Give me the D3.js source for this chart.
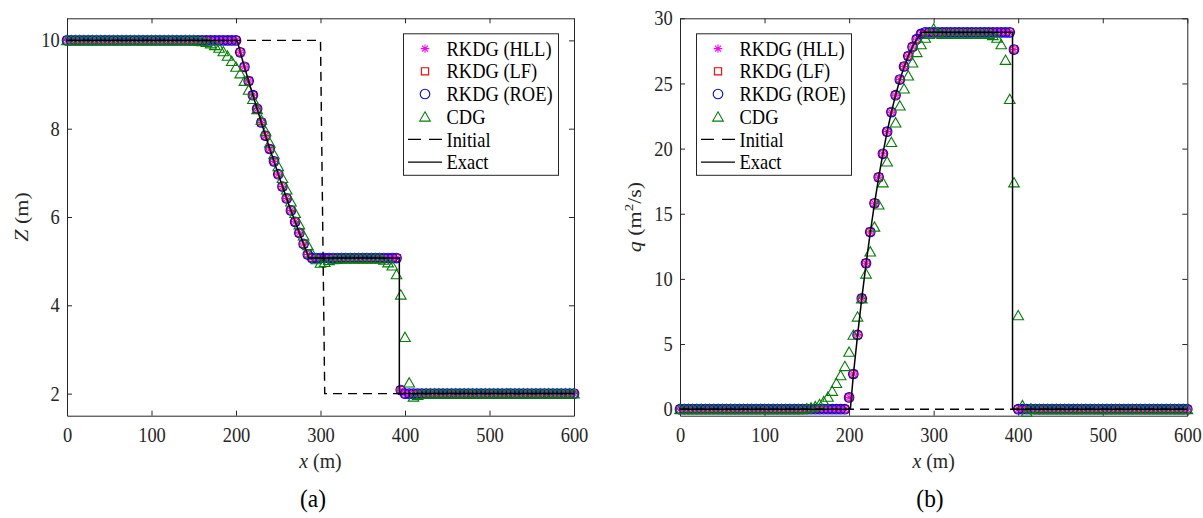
<!DOCTYPE html>
<html>
<head>
<meta charset="utf-8">
<script src="https://cdn.jsdelivr.net/npm/d3@7"></script>
<style>
  body { margin: 0; background: #fff; }
  svg { display: block; }
</style>
</head>
<body>
<svg id="fig" width="1203" height="518"></svg>
<script>
// Dam-break test: water level Z and discharge q at t = 10 s, dx = 5 m
const xGrid = [
  0,5,10,15,20,25,30,35,40,45,50,55,60,65,70,75,80,85,90,95,
  100,105,110,115,120,125,130,135,140,145,150,155,160,165,170,175,180,185,190,195,
  200,205,210,215,220,225,230,235,240,245,250,255,260,265,270,275,280,285,290,295,
  300,305,310,315,320,325,330,335,340,345,350,355,360,365,370,375,380,385,390,395,
  400,405,410,415,420,425,430,435,440,445,450,455,460,465,470,475,480,485,490,495,
  500,505,510,515,520,525,530,535,540,545,550,555,560,565,570,575,580,585,590,595,
  600
];

// Water level Z (m)
const hllZ = [
  10,10,10,10,10,10,10,10,10,10, 10,10,10,10,10,10,10,10,10,10,
  10,10,10,10,10,10,10,10,10,10, 10,10,10,10,10,10,10,10,10,10,
  10,
  9.73,9.40,9.08,8.76,8.45,8.14,7.84,7.54,7.26,6.97,6.69,6.42,6.15,5.89,5.64,5.39,5.15,
  5.07,5.07,5.07,5.07,5.07,5.07,5.07,5.07,5.07,5.07, 5.07,5.07,5.07,5.07,5.07,5.07,5.07,5.07,5.07,5.07,
  5.07,
  2.08,
  2,2,2,2,2,2,2,2,2,2, 2,2,2,2,2,2,2,2,2,2, 2,2,2,2,2,2,2,2,2,2, 2,2,2,2,2,2,2,2,2,2,
  2
];
const lfZ = [
  10,10,10,10,10,10,10,10,10,10, 10,10,10,10,10,10,10,10,10,10,
  10,10,10,10,10,10,10,10,10,10, 10,10,10,10,10,10,10,10,10,10,
  10,
  9.73,9.40,9.08,8.76,8.45,8.14,7.84,7.54,7.26,6.97,6.69,6.42,6.15,5.89,5.64,5.39,5.15,
  5.07,5.07,5.07,5.07,5.07,5.07,5.07,5.07,5.07,5.07, 5.07,5.07,5.07,5.07,5.07,5.07,5.07,5.07,5.07,5.07,
  5.07,
  2.08,
  2,2,2,2,2,2,2,2,2,2, 2,2,2,2,2,2,2,2,2,2, 2,2,2,2,2,2,2,2,2,2, 2,2,2,2,2,2,2,2,2,2,
  2
];
const roeZ = [
  10,10,10,10,10,10,10,10,10,10, 10,10,10,10,10,10,10,10,10,10,
  10,10,10,10,10,10,10,10,10,10, 10,10,10,10,10,10,10,10,10,10,
  10,
  9.73,9.40,9.08,8.76,8.45,8.14,7.84,7.54,7.26,6.97,6.69,6.42,6.15,5.89,5.64,5.39,5.15,
  5.07,5.07,5.07,5.07,5.07,5.07,5.07,5.07,5.07,5.07, 5.07,5.07,5.07,5.07,5.07,5.07,5.07,5.07,5.07,5.07,
  5.07,
  2.08,
  2,2,2,2,2,2,2,2,2,2, 2,2,2,2,2,2,2,2,2,2, 2,2,2,2,2,2,2,2,2,2, 2,2,2,2,2,2,2,2,2,2,
  2
];
const cdgZ = [
  10,10,10,10,10,10,10,10,10,10, 10,10,10,10,10,10,10,10,10,10, 10,10,10,10,10,10,10,10,10,10,
  10,9.99,9.98,9.96,9.93,9.89,9.83,9.75,9.65,9.53,
  9.40,9.25,9.08,8.88,8.67,8.44,8.20,7.94,7.68,7.42,
  7.15,6.88,6.62,6.35,6.09,5.83,5.58,5.36,5.17,5.04,
  4.96,4.98,5.02,5.04,5.05,
  5.06,5.06,5.06,5.06,5.06,5.06,5.06,5.06,5.06,5.06,
  5.03,4.97,4.90,4.70,4.24,3.28,2.25,1.93,1.97,1.99,
  2,2,2,2,2,2,2,2,2,2, 2,2,2,2,2,2,2,2,2,2, 2,2,2,2,2,2,2,2,2,2, 2,2,2,2,2,2
];

// Discharge q (m^2/s)
const hllQ = [
  0,0,0,0,0,0,0,0,0,0, 0,0,0,0,0,0,0,0,0,0, 0,0,0,0,0,0,0,0,0,0, 0,0,0,0,0,0,0,0,0,0,
  0.9,
  2.7,5.7,8.5,11.2,13.6,15.8,17.8,19.6,21.3,22.8,24.1,25.3,26.3,27.1,27.8,28.4,28.8,
  28.92,28.92,28.92,28.92,28.92,28.92,28.92,28.92,28.92,28.92, 28.92,28.92,28.92,28.92,28.92,28.92,28.92,28.92,28.92,28.92,
  28.92,
  27.6,
  0,0,0,0,0,0,0,0,0,0, 0,0,0,0,0,0,0,0,0,0, 0,0,0,0,0,0,0,0,0,0, 0,0,0,0,0,0,0,0,0,0,
  0
];
const lfQ = [
  0,0,0,0,0,0,0,0,0,0, 0,0,0,0,0,0,0,0,0,0, 0,0,0,0,0,0,0,0,0,0, 0,0,0,0,0,0,0,0,0,0,
  0.9,
  2.7,5.7,8.5,11.2,13.6,15.8,17.8,19.6,21.3,22.8,24.1,25.3,26.3,27.1,27.8,28.4,28.8,
  28.92,28.92,28.92,28.92,28.92,28.92,28.92,28.92,28.92,28.92, 28.92,28.92,28.92,28.92,28.92,28.92,28.92,28.92,28.92,28.92,
  28.92,
  27.6,
  0,0,0,0,0,0,0,0,0,0, 0,0,0,0,0,0,0,0,0,0, 0,0,0,0,0,0,0,0,0,0, 0,0,0,0,0,0,0,0,0,0,
  0
];
const roeQ = [
  0,0,0,0,0,0,0,0,0,0, 0,0,0,0,0,0,0,0,0,0, 0,0,0,0,0,0,0,0,0,0, 0,0,0,0,0,0,0,0,0,0,
  0.9,
  2.7,5.7,8.5,11.2,13.6,15.8,17.8,19.6,21.3,22.8,24.1,25.3,26.3,27.1,27.8,28.4,28.8,
  28.92,28.92,28.92,28.92,28.92,28.92,28.92,28.92,28.92,28.92, 28.92,28.92,28.92,28.92,28.92,28.92,28.92,28.92,28.92,28.92,
  28.92,
  27.6,
  0,0,0,0,0,0,0,0,0,0, 0,0,0,0,0,0,0,0,0,0, 0,0,0,0,0,0,0,0,0,0, 0,0,0,0,0,0,0,0,0,0,
  0
];
const cdgQ = [
  0,0,0,0,0,0,0,0,0,0, 0,0,0,0,0,0,0,0,0,0, 0,0,0,0,0,0,0,0,0,0,
  0.05,0.12,0.22,0.38,0.6,0.95,1.4,2.0,2.6,3.3,
  4.4,5.7,7.1,8.5,10.4,12.1,14.0,15.7,17.4,19.0,
  20.5,22.0,23.3,24.6,25.6,26.6,27.4,28.0,28.5,28.8,
  29.2,28.9,
  28.8,28.8,28.8,28.8,28.8,28.8,28.8,28.8,28.8,28.8,28.8,28.8,
  28.7,28.5,28.0,26.8,23.8,17.4,7.2,0.3,-0.2,0.05,
  0,0,0,0,0,0,0,0,0,0, 0,0,0,0,0,0,0,0,0,0, 0,0,0,0,0,0,0,0,0,0, 0,0,0,0,0,0,0
];

// Initial condition (dam at x = 300 m)
const initX = [0, 300, 305, 600];
const initZ = [10, 10, 2, 2];
const initQ = [0, 0, 0, 0];

// Exact Riemann solution
const exactX = [0, 201.5, 205, 210, 215, 220, 225, 230, 235, 240, 245, 250, 255, 260, 265, 270, 275, 280, 285, 286.3, 393.3, 393.3, 600];
const exactZ = [10, 10, 9.73, 9.40, 9.08, 8.76, 8.45, 8.14, 7.84, 7.54, 7.26, 6.97, 6.69, 6.42, 6.15, 5.89, 5.64, 5.39, 5.14, 5.07, 5.07, 2, 2];
const exactQ = [0, 0, 2.62, 5.67, 8.50, 11.12, 13.54, 15.76, 17.79, 19.64, 21.30, 22.79, 24.11, 25.27, 26.27, 27.12, 27.83, 28.39, 28.82, 28.92, 28.92, 0, 0];

const xTicks = [0, 100, 200, 300, 400, 500, 600];
const zTicks = [2, 4, 6, 8, 10];
const qTicks = [0, 5, 10, 15, 20, 25, 30];

const legendLabels = ["RKDG (HLL)", "RKDG (LF)", "RKDG (ROE)", "CDG", "Initial", "Exact"];

const FONT = '"Liberation Serif", "Times New Roman", Times, serif';
const AX = "#262626";
const SQ = "scale(0.9,1)"; // glyphs are set slightly condensed
const svg = d3.select("#fig");

// marker outlines, centred on the data point
function markerPath(kind) {
  if (kind === "asterisk") {
    const s = 4.2, d = 3;
    return `M${-s},0L${s},0M0,${-s}L0,${s}M${-d},${-d}L${d},${d}M${-d},${d}L${d},${-d}`;
  }
  if (kind === "square") return "M-3.6,-3.6H3.6V3.6H-3.6Z";
  if (kind === "circle") return "M4.8,0A4.8,4.8 0 1,1 -4.8,0A4.8,4.8 0 1,1 4.8,0Z";
  if (kind === "triangle") return "M0,-4.9L5.3,4.4H-5.3Z";
}

const styles = [
  { kind: "asterisk", color: "#ff00ff" },
  { kind: "square", color: "#ff0000" },
  { kind: "circle", color: "#0000ff" },
  { kind: "triangle", color: "#008000" }
];

function drawPanel(p) {
  const x = d3.scaleLinear().domain([0, 600]).range([p.left, p.right]);
  const y = d3.scaleLinear().domain(p.yDomain).range([p.bottom, p.top]);
  const g = svg.append("g");

  // axes (inward ticks on all four sides)
  const styleAxis = sel => {
    sel.attr("color", AX).attr("font-family", FONT).attr("font-size", 20.5);
    sel.select(".domain").attr("stroke-width", 1);
    sel.selectAll(".tick line").attr("stroke-width", 1);
    sel.selectAll("text").attr("fill", AX).attr("transform", SQ);
  };
  g.append("g").attr("transform", `translate(0,${p.bottom})`)
    .call(d3.axisBottom(x).tickValues(xTicks).tickSizeInner(-5).tickSizeOuter(0).tickPadding(12).tickFormat(d3.format("d")))
    .call(styleAxis);
  g.append("g").attr("transform", `translate(0,${p.top})`)
    .call(d3.axisTop(x).tickValues(xTicks).tickSizeInner(-5).tickSizeOuter(0).tickFormat(""))
    .call(styleAxis);
  g.append("g").attr("transform", `translate(${p.left},0)`)
    .call(d3.axisLeft(y).tickValues(p.yTicks).tickSizeInner(-5).tickSizeOuter(0).tickPadding(8).tickFormat(d3.format("d")))
    .call(styleAxis);
  g.append("g").attr("transform", `translate(${p.right},0)`)
    .call(d3.axisRight(y).tickValues(p.yTicks).tickSizeInner(-5).tickSizeOuter(0).tickFormat(""))
    .call(styleAxis);

  // numerical solutions
  p.series.forEach((vals, k) => {
    const st = styles[k];
    g.append("g").selectAll("path")
      .data(xGrid.map((xv, i) => [xv, vals[i]]))
      .join("path")
      .attr("transform", d => `translate(${x(d[0])},${y(d[1])})`)
      .attr("d", markerPath(st.kind))
      .attr("fill", "none")
      .attr("stroke", st.color)
      .attr("stroke-width", 1.1);
  });

  const line = d3.line().x(d => x(d[0])).y(d => y(d[1]));
  g.append("path")
    .datum(initX.map((xv, i) => [xv, p.init[i]]))
    .attr("d", line).attr("fill", "none").attr("stroke", "#000")
    .attr("stroke-width", 1.4).attr("stroke-dasharray", "9,6");
  g.append("path")
    .datum(exactX.map((xv, i) => [xv, p.exact[i]]))
    .attr("d", line).attr("fill", "none").attr("stroke", "#000")
    .attr("stroke-width", 1.5);

  // legend
  const lg = g.append("g").attr("transform", `translate(${p.legendX},${p.top + 15})`);
  lg.append("rect").attr("x", 0.5).attr("y", 0.5).attr("width", 155).attr("height", 141.5)
    .attr("fill", "#fff").attr("stroke", AX).attr("stroke-width", 1);
  legendLabels.forEach((lab, k) => {
    const cy = 15.3 + k * 22.7;
    if (k < 4) {
      const st = styles[k];
      lg.append("path").attr("transform", `translate(22,${cy})`)
        .attr("d", markerPath(st.kind)).attr("fill", "none")
        .attr("stroke", st.color).attr("stroke-width", 1.1);
    } else {
      lg.append("line").attr("x1", 5).attr("x2", 39).attr("y1", cy).attr("y2", cy)
        .attr("stroke", "#000").attr("stroke-width", 1.4)
        .attr("stroke-dasharray", k === 4 ? "13,8" : null);
    }
    lg.append("text").attr("transform", `translate(43.5,${cy}) ${SQ}`).attr("dy", "0.35em")
      .attr("font-family", FONT).attr("font-size", 20.5).attr("fill", "#000").text(lab);
  });

  // axis titles
  const xl = g.append("text")
    .attr("transform", `translate(${(p.left + p.right) / 2},468) ${SQ}`)
    .attr("text-anchor", "middle").attr("font-family", FONT).attr("font-size", 22).attr("fill", AX);
  xl.append("tspan").attr("font-style", "italic").text("x");
  xl.append("tspan").text(" (m)");

  const yl = g.append("text")
    .attr("transform", `translate(${p.left - 46},${(p.top + p.bottom) / 2}) rotate(-90) scale(1,0.9)`)
    .attr("text-anchor", "middle").attr("dy", "0.35em")
    .attr("font-family", FONT).attr("font-size", 22).attr("fill", AX);
  yl.append("tspan").attr("font-style", "italic").text(p.yVar);
  if (p.yVar === "q") {
    yl.append("tspan").text(" (m");
    yl.append("tspan").attr("font-size", 15).attr("baseline-shift", "super").text("2");
    yl.append("tspan").text("/s)");
  } else {
    yl.append("tspan").text(" (m)");
  }

  g.append("text").attr("transform", `translate(${p.tagX},507) ${SQ}`).attr("text-anchor", "middle")
    .attr("font-family", FONT).attr("font-size", 26).attr("fill", "#000").text(p.tag);
}

drawPanel({
  left: 67, right: 574, top: 18.3, bottom: 415.7,
  yDomain: [1.5, 10.5], yTicks: zTicks,
  series: [hllZ, lfZ, roeZ, cdgZ], init: initZ, exact: exactZ,
  legendX: 403, yVar: "Z", tag: "(a)", tagX: 313
});
drawPanel({
  left: 680, right: 1187.3, top: 18.3, bottom: 415.7,
  yDomain: [-0.5, 30], yTicks: qTicks,
  series: [hllQ, lfQ, roeQ, cdgQ], init: initQ, exact: exactQ,
  legendX: 696, yVar: "q", tag: "(b)", tagX: 930
});
</script>
</body>
</html>
